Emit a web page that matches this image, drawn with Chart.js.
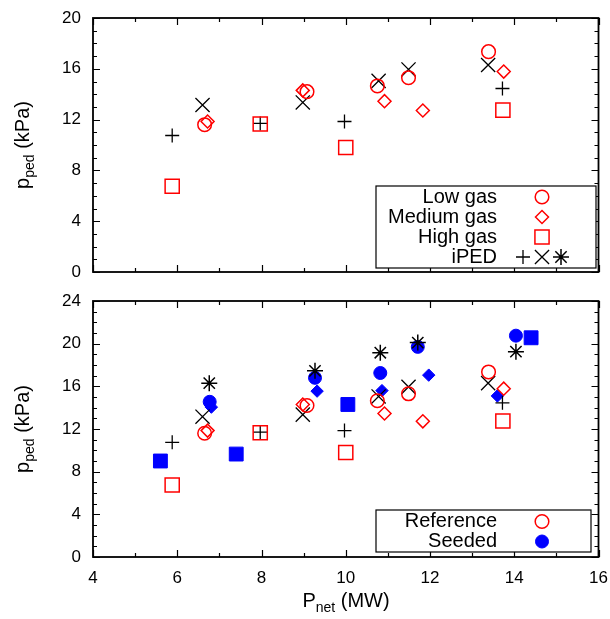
<!DOCTYPE html>
<html>
<head>
<meta charset="utf-8">
<script src="https://cdn.jsdelivr.net/npm/chart.js@4.4.0/dist/chart.umd.min.js"></script>
<style>
  html, body { margin: 0; padding: 0; background: #fff; }
  #wrap { position: relative; width: 610px; height: 619px; }
  #topBox { position: absolute; left: 0; top: 0; width: 610px; height: 285px; }
  #botBox { position: absolute; left: 0; top: 285px; width: 610px; height: 334px; }
</style>
</head>
<body>
<div id="wrap">
  <div id="topBox"><canvas id="GasChart"></canvas></div>
  <div id="botBox"><canvas id="SeedChart"></canvas></div>
</div>
<script>
(function () {
  "use strict";

  // Data: P_net (MW) and p_ped (kPa)
  const lowGasP      = [6.65, 9.08, 10.75, 11.49, 13.39];
  const lowGasPed    = [11.6, 14.2, 14.65, 15.3, 17.35];
  const medGasP      = [6.72, 8.98, 10.92, 11.83, 13.75];
  const medGasPed    = [11.85, 14.3, 13.45, 12.72, 15.78];
  const highGasP     = [5.88, 7.97, 10.0, 13.73];
  const highGasPed   = [6.75, 11.65, 9.8, 12.75];
  const ipedPlusP    = [5.88, 7.97, 9.97, 13.72];
  const ipedPlusPed  = [10.75, 11.7, 11.85, 14.45];
  const ipedCrossP   = [6.6, 8.98, 10.78, 11.49, 13.38];
  const ipedCrossPed = [13.15, 13.35, 15.05, 15.95, 16.3];
  const ipedStarP    = [6.76, 9.27, 10.82, 11.71, 14.04];
  const ipedStarPed  = [16.3, 17.45, 19.15, 20.1, 19.25];
  const seedLowP     = [6.77, 9.27, 10.82, 11.71, 14.04];
  const seedLowPed   = [14.55, 16.8, 17.25, 19.7, 20.75];
  const seedMedP     = [6.81, 9.32, 10.86, 11.97, 13.6];
  const seedMedPed   = [14.05, 15.55, 15.6, 17.05, 15.1];
  const seedHighP    = [5.6, 7.4, 10.05, 14.4];
  const seedHighPed  = [9.0, 9.65, 14.3, 20.55];

  const xTicks      = [4, 6, 8, 10, 12, 14, 16];
  const yTicksTop   = [0, 4, 8, 12, 16, 20];
  const yTicksBot   = [0, 4, 8, 12, 16, 20, 24];
  const topLegend   = ['Low gas', 'Medium gas', 'High gas', 'iPED'];
  const botLegend   = ['Reference', 'Seeded'];

  const red   = '#ff0000';
  const blue  = '#0000ff';
  const black = '#000000';
  const none  = 'rgba(0,0,0,0)';
  const fontFamily = "'Liberation Sans', Arial, Helvetica, sans-serif";

  Chart.defaults.font.family = fontFamily;
  Chart.defaults.color = black;

  const pts = (xs, ys) => xs.map((x, i) => ({ x: x, y: ys[i] }));

  function markerSet(label, xs, ys, style, radius, color, fill, width) {
    return {
      label: label,
      data: pts(xs, ys),
      pointStyle: style,
      pointRadius: radius,
      borderColor: color,
      backgroundColor: fill,
      pointBorderWidth: width,
      showLine: false
    };
  }

  function referenceSets() {
    return [
      markerSet('Low gas', lowGasP, lowGasPed, 'circle', 6.8, red, none, 1.5),
      markerSet('Medium gas', medGasP, medGasPed, 'rectRot', 6.5, red, none, 1.5),
      markerSet('High gas', highGasP, highGasPed, 'rect', 10, red, none, 1.5),
      markerSet('iPED', ipedPlusP, ipedPlusPed, 'cross', 7, black, none, 1.3),
      markerSet('iPED', ipedCrossP, ipedCrossPed, 'crossRot', 10, black, none, 1.3)
    ];
  }

  // subscript text helper
  function drawSubText(ctx, parts, cx, y, size, subSize) {
    let total = 0;
    parts.forEach(p => {
      ctx.font = (p.sub ? subSize : size) + 'px ' + fontFamily;
      p.w = ctx.measureText(p.t).width;
      total += p.w;
    });
    let x = cx - total / 2;
    ctx.textAlign = 'left';
    ctx.textBaseline = 'alphabetic';
    parts.forEach(p => {
      ctx.font = (p.sub ? subSize : size) + 'px ' + fontFamily;
      ctx.fillText(p.t, x, p.sub ? y + 5 : y);
      x += p.w;
    });
  }

  function drawMarker(ctx, style, radius, color, fill, width, x, y) {
    ctx.save();
    ctx.strokeStyle = color;
    ctx.fillStyle = fill;
    ctx.lineWidth = width;
    Chart.helpers.drawPoint(ctx, { pointStyle: style, radius: radius, rotation: 0, borderWidth: width }, x, y);
    ctx.restore();
  }

  // gnuplot-like frame with inward tics on all sides
  const framePlugin = {
    id: 'frame',
    beforeDatasetsDraw(chart) {
      const ctx = chart.ctx;
      const a = chart.chartArea;
      const xs = chart.scales.x;
      const ys = chart.scales.y;
      ctx.save();
      ctx.strokeStyle = black;
      ctx.lineWidth = 1.2;
      for (let v = xs.min; v <= xs.max; v += 1) {
        const px = Math.round(xs.getPixelForValue(v)) + 0.5;
        const len = v % 2 === 0 ? 7 : 4;
        ctx.beginPath();
        ctx.moveTo(px, a.bottom); ctx.lineTo(px, a.bottom - len);
        ctx.moveTo(px, a.top); ctx.lineTo(px, a.top + len);
        ctx.stroke();
      }
      for (let v = ys.min; v <= ys.max; v += 1) {
        const py = Math.round(ys.getPixelForValue(v)) + 0.5;
        const len = v % 4 === 0 ? 7 : 4;
        ctx.beginPath();
        ctx.moveTo(a.left, py); ctx.lineTo(a.left + len, py);
        ctx.moveTo(a.right, py); ctx.lineTo(a.right - len, py);
        ctx.stroke();
      }
      ctx.lineWidth = 1.8;
      ctx.strokeRect(a.left, a.top, a.right - a.left, a.bottom - a.top);
      ctx.restore();
    }
  };

  // fixed axis sizes, no extra label padding (keeps plot boxes aligned)
  function fixBox(s, size) {
    if (s.isHorizontal()) s.height = size; else s.width = size;
    s.paddingLeft = 0; s.paddingRight = 0; s.paddingTop = 0; s.paddingBottom = 0;
  }

  function scalesFor(yTicks, yMax, showX, xHeight) {
    return {
      x: {
        type: 'linear',
        min: 4, max: 16,
        afterBuildTicks: s => { s.ticks = xTicks.map(v => ({ value: v })); },
        afterFit: s => fixBox(s, xHeight),
        grid: { display: false, drawTicks: false },
        border: { display: false },
        ticks: { display: showX, padding: 11, font: { size: 17 }, color: black }
      },
      y: {
        type: 'linear',
        min: 0, max: yMax,
        afterBuildTicks: s => { s.ticks = yTicks.map(v => ({ value: v })); },
        afterFit: s => fixBox(s, 93),
        grid: { display: false, drawTicks: false },
        border: { display: false },
        ticks: { padding: 12, font: { size: 17 }, color: black }
      }
    };
  }

  function yTitle(ctx, cy) {
    ctx.save();
    ctx.fillStyle = black;
    ctx.translate(29, cy);
    ctx.rotate(-Math.PI / 2);
    drawSubText(ctx, [{ t: 'p' }, { t: 'ped', sub: true }, { t: ' (kPa)' }], 0, 0, 20, 14);
    ctx.restore();
  }

  function legendBox(ctx, l, t, r, b) {
    ctx.save();
    ctx.fillStyle = '#fff';
    ctx.fillRect(l, t, r - l, b - t);
    ctx.strokeStyle = black;
    ctx.lineWidth = 1.2;
    ctx.strokeRect(l, t, r - l, b - t);
    ctx.restore();
  }

  function legendText(ctx, text, x, y) {
    ctx.save();
    ctx.fillStyle = black;
    ctx.font = '20px ' + fontFamily;
    ctx.textAlign = 'right';
    ctx.textBaseline = 'middle';
    ctx.fillText(text, x, y);
    ctx.restore();
  }

  // Top: reference cases
  const chart_gas = document.getElementById('GasChart');
  if (chart_gas != null) {
    new Chart(chart_gas, {
      type: 'scatter',
      data: { datasets: referenceSets() },
      options: {
        responsive: true,
        maintainAspectRatio: false,
        animation: false,
        events: [],
        layout: { padding: { left: 0, right: 11, top: 18, bottom: 0 } },
        scales: scalesFor(yTicksTop, 20, false, 13),
        plugins: { legend: { display: false }, tooltip: { enabled: false } }
      },
      plugins: [framePlugin, {
        id: 'gasDecor',
        afterDraw(chart) {
          const ctx = chart.ctx;
          yTitle(ctx, 145);
          legendBox(ctx, 376, 186, 596, 268);
          const rows = [197, 217, 237, 257];
          topLegend.forEach((t, i) => legendText(ctx, t, 497, rows[i]));
          drawMarker(ctx, 'circle', 6.8, red, none, 1.5, 542, rows[0]);
          drawMarker(ctx, 'rectRot', 6.5, red, none, 1.5, 542, rows[1]);
          drawMarker(ctx, 'rect', 10, red, none, 1.5, 542, rows[2]);
          drawMarker(ctx, 'cross', 7, black, none, 1.3, 523, rows[3]);
          drawMarker(ctx, 'crossRot', 10, black, none, 1.3, 542, rows[3]);
          drawMarker(ctx, 'star', 8, black, none, 1.5, 561, rows[3]);
        }
      }]
    });
  }

  // Bottom: reference plus seeded cases
  const chart_seed = document.getElementById('SeedChart');
  if (chart_seed != null) {
    const sets = referenceSets().concat([
      markerSet('iPED seeded', ipedStarP, ipedStarPed, 'star', 8, black, none, 1.5),
      markerSet('Seeded low gas', seedLowP, seedLowPed, 'circle', 6.5, blue, blue, 1),
      markerSet('Seeded medium gas', seedMedP, seedMedPed, 'rectRot', 6.2, blue, blue, 1),
      markerSet('Seeded high gas', seedHighP, seedHighPed, 'rect', 9.8, blue, blue, 1)
    ]);
    new Chart(chart_seed, {
      type: 'scatter',
      data: { datasets: sets },
      options: {
        responsive: true,
        maintainAspectRatio: false,
        animation: false,
        events: [],
        layout: { padding: { left: 0, right: 11, top: 16, bottom: 0 } },
        scales: scalesFor(yTicksBot, 24, true, 62),
        plugins: { legend: { display: false }, tooltip: { enabled: false } }
      },
      plugins: [framePlugin, {
        id: 'seedDecor',
        afterDraw(chart) {
          const ctx = chart.ctx;
          yTitle(ctx, 144);
          ctx.save();
          ctx.fillStyle = black;
          drawSubText(ctx, [{ t: 'P' }, { t: 'net', sub: true }, { t: ' (MW)' }], 346, 322, 20, 14);
          ctx.restore();
          legendBox(ctx, 376, 225, 591, 267);
          legendText(ctx, botLegend[0], 497, 236.5);
          legendText(ctx, botLegend[1], 497, 256.5);
          drawMarker(ctx, 'circle', 6.8, red, none, 1.5, 542, 236.5);
          drawMarker(ctx, 'circle', 6.5, blue, blue, 1, 542, 256.5);
        }
      }]
    });
  }

})();
</script>
</body>
</html>
